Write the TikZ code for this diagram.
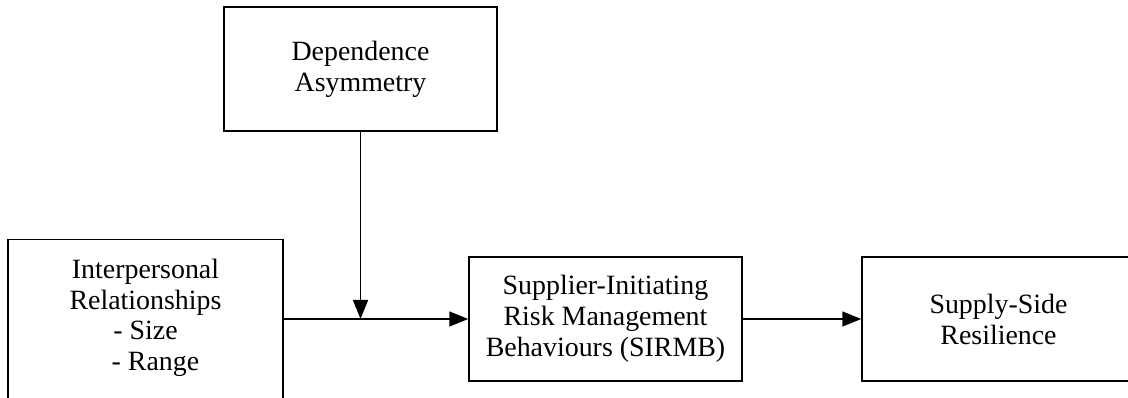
\documentclass[tikz,border=0pt]{standalone}
\usepackage{fontspec}
\setmainfont{Liberation Serif}
\usetikzlibrary{arrows.meta}
\begin{document}
\begin{tikzpicture}[x=1pt,y=-1pt,
  box/.style={draw=black, line width=1.5pt, minimum width=273pt, minimum height=124pt, inner sep=0pt, align=center, font=\fontsize{27.9}{31}\selectfont},
  lbl/.style={inner sep=0pt, align=center, font=\fontsize{27.9}{30.5}\selectfont},
  conn/.style={draw=black, line width=1.5pt, -{Triangle[length=19pt,width=15pt]}},
  plain/.style={draw=black, line width=1.5pt}]
\useasboundingbox (0,0) rectangle (1128,398);
\node[box] (dep) at (360.5,69) {Dependence\\Asymmetry};
\node[box, minimum width=275pt, minimum height=175pt, anchor=north] (ip) at (145.5,239) {};
\node[lbl] (iptext) at (145.5,318) {Interpersonal\\Relationships\\- Size\\\hspace*{20pt}- Range};
\node[box] (sirmb) at (605.5,319) {Supplier-Initiating\\Risk Management\\Behaviours (SIRMB)};
\node[box] (res) at (998.5,319) {Supply-Side\\Resilience};
\draw[conn] (ip.east |- sirmb.west) -- (sirmb.west);
\draw[conn] (dep.south) -- (dep.south |- sirmb.west);
\draw[conn] (sirmb.east) -- (res.west);
\end{tikzpicture}
\end{document}
